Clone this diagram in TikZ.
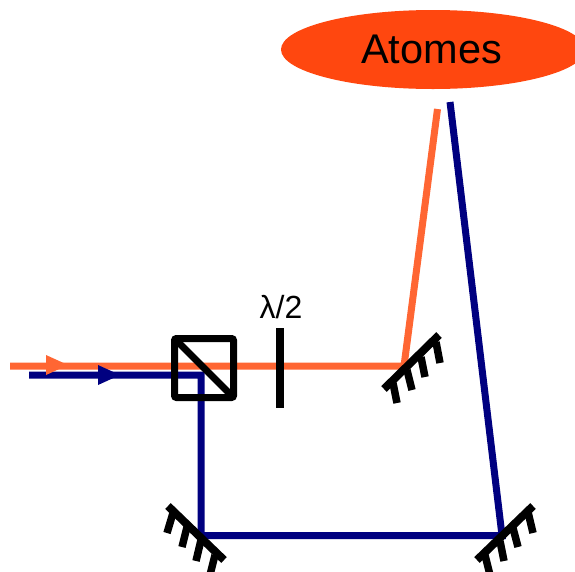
\documentclass[tikz,border=0pt]{standalone}
\usepackage{fontspec}
\setmainfont{Liberation Sans}
\usetikzlibrary{shapes.geometric}
\definecolor{beamorange}{HTML}{FF6633}
\definecolor{beamblue}{HTML}{000080}
\definecolor{atomfill}{HTML}{FF470F}
\tikzset{
  orangebeam/.style={draw=beamorange,line width=7pt,line join=miter},
  bluebeam/.style={draw=beamblue,line width=7pt,line join=miter},
  blackbar/.style={draw=black,line width=8pt},
  tooth/.style={draw=black,line width=7.5pt},
}
\begin{document}
\begin{tikzpicture}[x=1pt,y=-1pt]
\useasboundingbox (0,0) rectangle (575,571);
\clip (0,0) rectangle (575,571);
% atoms
\node[ellipse,fill=atomfill,minimum width=304pt,minimum height=79pt,inner sep=0pt] (atoms) at (433,49.5) {};
\node[font=\fontsize{41.5}{41.5}\selectfont,inner sep=0pt] (atomslabel) at (431.5,49) {Atomes};
% beam points
\coordinate (os) at (10,366);
\coordinate (bs) at (29,375);
\coordinate (m1) at (404,366);
\coordinate (oe) at (437.5,109);
\coordinate (bc) at (201,375);
\coordinate (m2) at (201,535.5);
\coordinate (m3) at (502,535.5);
\coordinate (be) at (450,102);
% beams
\draw[bluebeam] (bs) -- (bc) -- (m2) -- (m3) -- (be);
\draw[orangebeam] (os) -- (m1) -- (oe);
% arrowheads
\fill[beamorange] (46,355) -- (68,365) -- (46,375) -- cycle;
\fill[beamblue] (98,365) -- (120,375) -- (98,385) -- cycle;
% cube
\node[draw=black,line width=7pt,rounded corners=2pt,minimum size=59pt,inner sep=0pt,outer sep=0pt] (cube) at (204,368) {};
\draw[draw=black,line width=7pt] (cube.north west) -- (cube.south east);
% half-wave plate
\node[fill=black,minimum width=8pt,minimum height=80pt,inner sep=0pt] (plate) at (279.5,368) {};
\node[font=\fontsize{32}{32}\selectfont,inner sep=0pt] (platelabel) at (281,307.5) {λ/2};
% mirror 1
\draw[blackbar] (384,389) -- (439,335);
\draw[tooth] (393,383) -- (397,403);
\draw[tooth] (407,370) -- (412,390);
\draw[tooth] (421,357) -- (425,377);
\draw[tooth] (436,342) -- (440,363);
% mirror 2
\draw[blackbar] (168,506) -- (224,560);
\draw[tooth] (173,513) -- (167,533);
\draw[tooth] (187,527) -- (182,547);
\draw[tooth] (201,540) -- (196,561);
\draw[tooth] (215,555) -- (210,575);
% mirror 3
\draw[blackbar] (477,560) -- (533,506);
\draw[tooth] (485,555) -- (490,575);
\draw[tooth] (500,541) -- (504,561);
\draw[tooth] (513,528) -- (518,547);
\draw[tooth] (528,512) -- (533,533);
\end{tikzpicture}
\end{document}
